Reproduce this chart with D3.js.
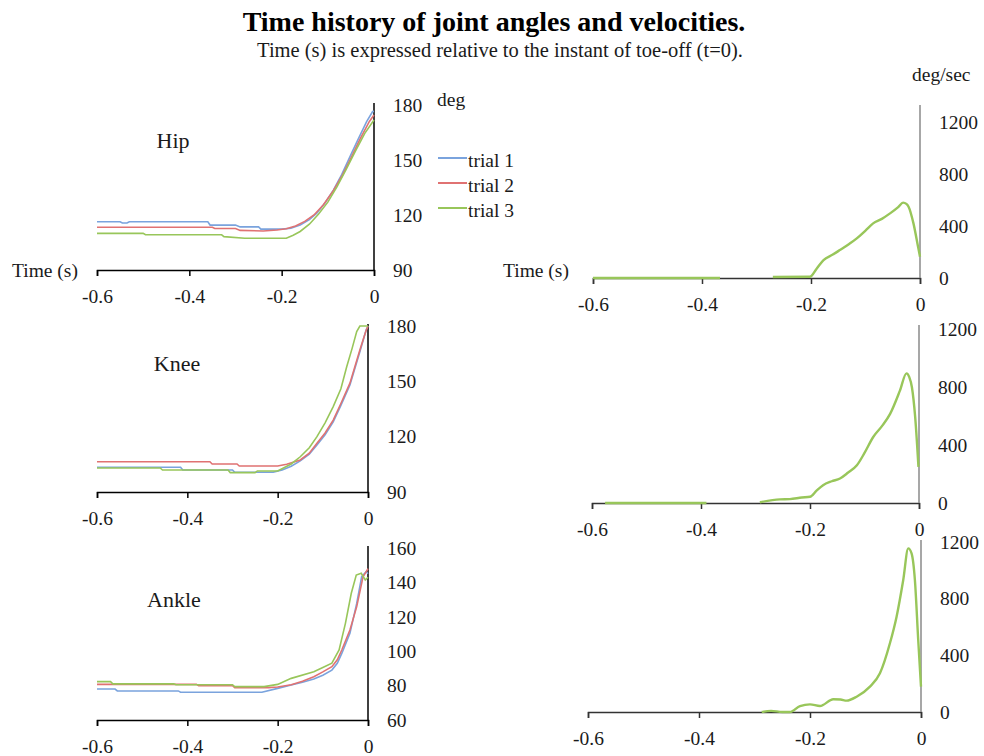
<!DOCTYPE html>
<html>
<head>
<meta charset="utf-8">
<title>Joint angles and velocities</title>
<style>
  body { margin: 0; background: #fff; }
  svg text { font-family: "Liberation Serif", "Times New Roman", serif; fill: #1a1a1a; }
</style>
<script src="https://d3js.org/d3.v7.min.js"></script>
</head>
<body>
<script>

// time (s) relative to toe-off, joint angle (deg)
const hipTrial1 = [[-0.6,116.3],[-0.55,116.3],[-0.545,115.6],[-0.535,115.6],[-0.53,116.3],[-0.36,116.3],[-0.355,114.5],[-0.30,114.5],[-0.29,113.5],[-0.25,113.5],[-0.245,112.3],[-0.2,112.3],[-0.18,112.8],[-0.16,114.5],[-0.14,117.5],[-0.124,121],[-0.105,127],[-0.088,133.6],[-0.07,142],[-0.052,151.8],[-0.035,161],[-0.016,170.9],[-0.003,176.4],[0,176.5]];
const hipTrial2 = [[-0.6,113.3],[-0.35,113.3],[-0.345,112.6],[-0.3,112.6],[-0.29,111.6],[-0.24,111.3],[-0.21,111.8],[-0.19,112.5],[-0.17,114],[-0.15,116.5],[-0.13,120],[-0.11,125.5],[-0.09,132.5],[-0.07,141],[-0.05,151],[-0.03,161.5],[-0.01,171],[0,174.5]];
const hipTrial3 = [[-0.6,110],[-0.5,110],[-0.495,109.2],[-0.33,109.2],[-0.325,108.2],[-0.28,107.3],[-0.19,107.3],[-0.175,109],[-0.16,111],[-0.14,115],[-0.12,120.5],[-0.1,127],[-0.08,135.5],[-0.06,145],[-0.04,155],[-0.02,164.5],[0,171.8]];

const kneeTrial1 = [[-0.6,103.4],[-0.415,103.4],[-0.41,101.9],[-0.3,101.9],[-0.295,100.7],[-0.21,100.7],[-0.19,102],[-0.17,104],[-0.15,106.9],[-0.13,110.5],[-0.113,115.5],[-0.095,121],[-0.077,128],[-0.06,137],[-0.04,148],[-0.018,166],[-0.004,178],[0,180]];
const kneeTrial2 = [[-0.6,106.4],[-0.35,106.4],[-0.345,105.2],[-0.29,105.2],[-0.285,104.1],[-0.2,104.1],[-0.18,105],[-0.15,107.4],[-0.13,111],[-0.113,116.4],[-0.095,122],[-0.077,129],[-0.06,138],[-0.04,149],[-0.018,167],[-0.005,177],[0,180]];
const kneeTrial3 = [[-0.6,103],[-0.46,103],[-0.455,101.9],[-0.31,101.9],[-0.305,100.5],[-0.25,100.5],[-0.245,101.4],[-0.2,101.4],[-0.17,105.2],[-0.15,109.1],[-0.13,114],[-0.113,120],[-0.095,127.5],[-0.077,136.3],[-0.06,146],[-0.047,158],[-0.035,168],[-0.025,177],[-0.018,180],[0,180]];

const ankleTrial1 = [[-0.6,78],[-0.56,78],[-0.555,76.9],[-0.42,76.9],[-0.415,76.1],[-0.235,76.1],[-0.2,78.4],[-0.17,80.3],[-0.145,82],[-0.12,83.8],[-0.1,86],[-0.08,89],[-0.068,93],[-0.058,98.7],[-0.04,110.4],[-0.025,127.8],[-0.014,143.3],[-0.004,146.2],[0,145]];
const ankleTrial2 = [[-0.6,80.7],[-0.38,80.7],[-0.375,80],[-0.3,80],[-0.295,78.8],[-0.22,78.8],[-0.2,79.2],[-0.17,80.5],[-0.145,82.5],[-0.12,85.2],[-0.1,88],[-0.08,91],[-0.068,95],[-0.058,100.7],[-0.04,112.3],[-0.025,125.9],[-0.011,143.3],[0,148]];
const ankleTrial3 = [[-0.6,82.3],[-0.57,82.3],[-0.565,81],[-0.43,81],[-0.425,80.5],[-0.3,80.5],[-0.295,79.4],[-0.23,79.4],[-0.2,80.7],[-0.17,84.2],[-0.12,88.1],[-0.1,90.5],[-0.08,93],[-0.064,100.7],[-0.05,116.2],[-0.037,133.7],[-0.026,144.3],[-0.015,145.3],[-0.006,141.4],[0,143]];

// angular velocity (deg/sec); null = no sample
const hipVelocity = [[-0.6,0],[-0.367,0],[-0.32,null],[-0.27,8],[-0.202,10],[-0.19,70],[-0.177,138],[-0.16,180],[-0.147,215],[-0.13,262],[-0.116,305],[-0.1,365],[-0.086,420],[-0.07,455],[-0.055,497],[-0.04,545],[-0.031,580],[-0.025,570],[-0.021,548],[-0.012,420],[-0.003,228],[0,164]];
const kneeVelocity = [[-0.576,0],[-0.39,0],[-0.34,null],[-0.292,5],[-0.255,25],[-0.237,27],[-0.215,38],[-0.2,43],[-0.188,85],[-0.176,123],[-0.16,150],[-0.145,169],[-0.13,210],[-0.114,260],[-0.1,345],[-0.084,455],[-0.068,530],[-0.053,615],[-0.035,775],[-0.023,894],[-0.018,870],[-0.013,798],[-0.007,592],[-0.001,249]];
const ankleVelocity = [[-0.287,0],[-0.27,8],[-0.25,0],[-0.236,0],[-0.218,42],[-0.2,54],[-0.182,42],[-0.158,90],[-0.145,88],[-0.134,80],[-0.116,108],[-0.092,179],[-0.074,273],[-0.056,485],[-0.044,673],[-0.032,932],[-0.023,1155],[-0.017,1120],[-0.011,932],[-0.005,508],[0,179]];

const timeTicks = [-0.6, -0.4, -0.2, 0];
const hipKneeTicks = [90, 120, 150, 180];
const ankleTicks = [60, 80, 100, 120, 140, 160];
const velocityTicks = [0, 400, 800, 1200];
const trialNames = ["trial 1", "trial 2", "trial 3"];
const trialColors = ["#7aa3dd", "#e07272", "#98c65a"];

const FONT = '"Liberation Serif", "Times New Roman", serif';
const W = 984, H = 756;
const svg = d3.select("body").append("svg").attr("width", W).attr("height", H);

svg.append("text").attr("x", 494).attr("y", 31).attr("text-anchor", "middle")
  .style("font-size", "28px").style("font-weight", "bold").style("fill", "#000")
  .text("Time history of joint angles and velocities.");
svg.append("text").attr("x", 500).attr("y", 57).attr("text-anchor", "middle")
  .style("font-size", "20.5px")
  .text("Time (s) is expressed relative to the instant of toe-off (t=0).");

let anglePanels = [
  { name: "Hip",   trials: [hipTrial1, hipTrial2, hipTrial3],       ticks: hipKneeTicks, dom: [90, 180], x0: 97, x1: 374, y0: 270, y1: 105, lx: 173, ly: 148 },
  { name: "Knee",  trials: [kneeTrial1, kneeTrial2, kneeTrial3],    ticks: hipKneeTicks, dom: [90, 180], x0: 97, x1: 368, y0: 492, y1: 326, lx: 177, ly: 371 },
  { name: "Ankle", trials: [ankleTrial1, ankleTrial2, ankleTrial3], ticks: ankleTicks,   dom: [60, 160], x0: 97, x1: 368, y0: 720, y1: 548, lx: 174, ly: 607 }
];

let velocityPanels = [
  { data: hipVelocity,   x0: 593, x1: 920, y0: 278, y1: 122, top: 105 },
  { data: kneeVelocity,  x0: 592, x1: 919, y0: 503, y1: 329, top: 325 },
  { data: ankleVelocity, x0: 588, x1: 921, y0: 712, y1: 542, top: 540 }
];

function xAxis(g, x, y0, color) {
  let ax = g.append("g").attr("transform", "translate(0," + y0 + ")")
    .attr("font-family", FONT)
    .call(d3.axisBottom(x).tickValues(timeTicks).tickSize(6).tickPadding(13).tickFormat(d => String(d)));
  ax.attr("font-family", FONT);
  ax.select(".domain").attr("stroke", color).attr("stroke-width", 1.5);
  ax.selectAll(".tick line").attr("stroke", color).attr("stroke-width", 1.5);
  ax.selectAll("text").style("font-family", FONT).style("font-size", "19.5px").attr("fill", "#1a1a1a");
}

function yAxis(g, y, x1, ticks, color, top) {
  let ax = g.append("g").attr("transform", "translate(" + x1 + ",0)")
    .call(d3.axisRight(y).tickValues(ticks).tickSize(0).tickPadding(19).tickFormat(d => String(d)));
  ax.attr("font-family", FONT);
  ax.select(".domain").remove();
  ax.selectAll("text").style("font-family", FONT).style("font-size", "19.5px").attr("fill", "#1a1a1a");
  g.append("line").attr("x1", x1).attr("x2", x1)
    .attr("y1", y.range()[0]).attr("y2", top)
    .attr("stroke", color).attr("stroke-width", 1.5);
}

for (let p of anglePanels) {
  let g = svg.append("g");
  let x = d3.scaleLinear().domain([-0.6, 0]).range([p.x0, p.x1]);
  let y = d3.scaleLinear().domain(p.dom).range([p.y0, p.y1]);
  xAxis(g, x, p.y0, "#000");
  yAxis(g, y, p.x1, p.ticks, "#000", p.y1 - 2);
  let line = d3.line().x(d => x(d[0])).y(d => y(d[1]));
  p.trials.forEach((t, i) => {
    g.append("path").datum(t).attr("d", line)
      .attr("fill", "none").attr("stroke", trialColors[i]).attr("stroke-width", 1.6);
  });
  g.append("text").attr("x", p.lx).attr("y", p.ly).attr("text-anchor", "middle")
    .style("font-size", "22px").text(p.name);
}

for (let p of velocityPanels) {
  let g = svg.append("g");
  let x = d3.scaleLinear().domain([-0.6, 0]).range([p.x0, p.x1]);
  let y = d3.scaleLinear().domain([0, 1200]).range([p.y0, p.y1]);
  xAxis(g, x, p.y0, "#333");
  yAxis(g, y, p.x1, velocityTicks, "#8a8a8a", p.top);
  let line = d3.line().defined(d => d[1] != null).curve(d3.curveMonotoneX).x(d => x(d[0])).y(d => y(d[1]));
  g.append("path").datum(p.data).attr("d", line)
    .attr("fill", "none").attr("stroke", trialColors[2]).attr("stroke-width", 2.4);
}

// axis captions
svg.append("text").attr("x", 12).attr("y", 277).style("font-size", "19.5px").text("Time (s)");
svg.append("text").attr("x", 503).attr("y", 277).style("font-size", "19.5px").text("Time (s)");
svg.append("text").attr("x", 437).attr("y", 106).style("font-size", "19.5px").text("deg");
svg.append("text").attr("x", 912).attr("y", 81).style("font-size", "19.5px").text("deg/sec");

// legend
let legend = svg.append("g").attr("transform", "translate(438,158)");
trialNames.forEach((n, i) => {
  let row = legend.append("g").attr("transform", "translate(0," + (i * 25) + ")");
  row.append("line").attr("x1", 0).attr("x2", 29).attr("stroke", trialColors[i]).attr("stroke-width", 2);
  row.append("text").attr("x", 30).attr("y", 9).style("font-size", "19.5px").text(n);
});

</script>
</body>
</html>
